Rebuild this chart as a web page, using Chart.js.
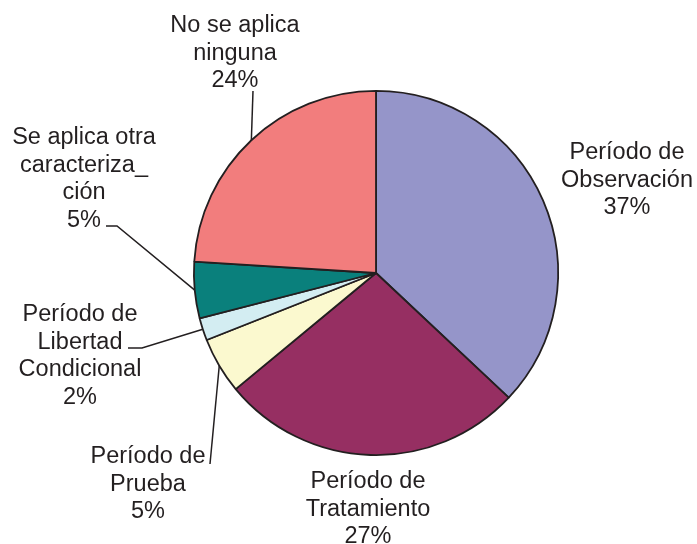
<!DOCTYPE html>
<html>
<head>
<meta charset="utf-8">
<script src="https://cdn.jsdelivr.net/npm/chart.js@4"></script>
<style>
  html, body { margin: 0; padding: 0; background: #fff; }
  #wrap { width: 697px; height: 544px; position: relative; }
</style>
</head>
<body>
<div id="wrap"><canvas id="pieChart"></canvas></div>
<script>
// Datos del gráfico
const categories = [
    ['Período de', 'Observación'],
    ['Período de', 'Tratamiento'],
    ['Período de', 'Prueba'],
    ['Período de', 'Libertad', 'Condicional'],
    ['Se aplica otra', 'caracteriza_', 'ción'],
    ['No se aplica', 'ninguna']
];
const percents = [37, 27, 5, 2, 5, 24];
const sliceColors = ['#9595c9', '#962f62', '#fbf9cf', '#d3edf2', '#0a807c', '#f27d7d'];

// Posición de las etiquetas (centro x, primera línea base y) y quiebres de las guías
const labelPos = [
    { x: 627, y: 159 },
    { x: 368, y: 488 },
    { x: 148, y: 463 },
    { x: 80, y: 321 },
    { x: 84, y: 144 },
    { x: 235, y: 32 }
];
const leaders = [
    null,
    null,
    [[210, 464]],
    [[142, 348], [128, 348]],
    [[117, 226], [106, 226]],
    [[253, 91]]
];

const INK = '#231f20';
const FONT_SIZE = 23.5;
const LINE_H = 27.5;

const labelPlugin = {
    id: 'pieLabels',
    afterDatasetsDraw(chart) {
        const ctx = chart.ctx;
        const arcs = chart.getDatasetMeta(0).data;
        ctx.save();
        ctx.strokeStyle = INK;
        ctx.lineWidth = 1.5;
        arcs.forEach((arc, i) => {
            if (!leaders[i]) return;
            const mid = (arc.startAngle + arc.endAngle) / 2;
            const r = arc.outerRadius;
            ctx.beginPath();
            ctx.moveTo(arc.x + Math.cos(mid) * r, arc.y + Math.sin(mid) * r);
            leaders[i].forEach(p => ctx.lineTo(p[0], p[1]));
            ctx.stroke();
        });

        ctx.fillStyle = INK;
        ctx.font = FONT_SIZE + 'px "Liberation Sans", Arial, sans-serif';
        ctx.textAlign = 'center';
        ctx.textBaseline = 'alphabetic';
        categories.forEach((lines, i) => {
            const all = lines.concat([percents[i] + '%']);
            all.forEach((t, k) => {
                ctx.fillText(t, labelPos[i].x, labelPos[i].y + k * LINE_H);
            });
        });
        ctx.restore();
    }
};

new Chart(document.getElementById('pieChart'), {
    type: 'pie',
    data: {
        labels: categories.map(c => c.join(' ')),
        datasets: [{
            data: percents,
            backgroundColor: sliceColors,
            borderColor: INK,
            borderWidth: 1.8
        }]
    },
    options: {
        responsive: true,
        maintainAspectRatio: false,
        animation: false,
        layout: { padding: { left: 193, right: 138, top: 90, bottom: 88 } },
        plugins: {
            legend: { display: false },
            tooltip: { enabled: false }
        }
    },
    plugins: [labelPlugin]
});
</script>
</body>
</html>
